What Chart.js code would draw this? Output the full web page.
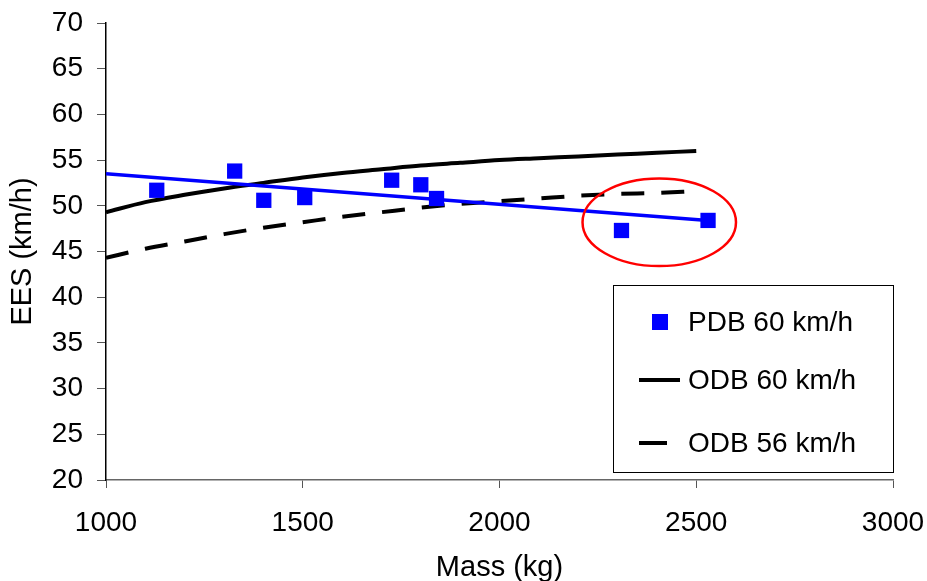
<!DOCTYPE html>
<html>
<head>
<meta charset="utf-8">
<script src="https://cdn.jsdelivr.net/npm/chart.js@4"></script>
<style>
  html, body { margin: 0; padding: 0; background: #fff; }
  #wrap { width: 927px; height: 581px; position: relative; }
</style>
</head>
<body>
<div id="wrap"><canvas id="chart"></canvas></div>
<script>
// PDB 60 km/h test results
const pdbMass = [1129, 1327, 1401, 1505, 1726, 1800, 1840, 2310, 2530];
const pdbEes = [51.7, 53.8, 50.6, 50.9, 52.8, 52.3, 50.8, 47.3, 48.4];

// linear trend through the PDB points
const trendMass = [1000, 2530];
const trendEes = [53.5, 48.4];

// ODB curves
const curveMass = [1000, 1100, 1200, 1300, 1400, 1500, 1600, 1700, 1800, 1900, 2000, 2100, 2200, 2300, 2400, 2500];
const odb60 = [49.3, 50.4, 51.2, 51.9, 52.5, 53.1, 53.6, 54.0, 54.4, 54.7, 55.0, 55.2, 55.4, 55.6, 55.8, 56.0];
const odb56 = [44.3, 45.3, 46.1, 46.9, 47.6, 48.2, 48.8, 49.3, 49.8, 50.2, 50.5, 50.8, 51.1, 51.3, 51.4, 51.6];

const seriesNames = ['PDB 60 km/h', 'ODB 60 km/h', 'ODB 56 km/h'];
const xTicks = [1000, 1500, 2000, 2500, 3000];
const yTicks = [20, 25, 30, 35, 40, 45, 50, 55, 60, 65, 70];

// red ellipse around the heavy vehicles (data units)
const ringCenter = [2406, 48.2];
const ringRadius = [195, 4.8];

const FONT = '"Liberation Sans", Arial, sans-serif';

function toPoints(xs, ys) {
    return xs.map((x, i) => ({ x: x, y: ys[i] }));
}

// ellipse + legend box
const overlay = {
    id: 'overlay',
    afterDatasetsDraw(chart) {
        const ctx = chart.ctx;
        const xs = chart.scales.x, ys = chart.scales.y;
        const cx = xs.getPixelForValue(ringCenter[0]);
        const cy = ys.getPixelForValue(ringCenter[1]);
        const rx = Math.abs(xs.getPixelForValue(ringCenter[0] + ringRadius[0]) - cx);
        const ry = Math.abs(ys.getPixelForValue(ringCenter[1] + ringRadius[1]) - cy);
        ctx.save();
        ctx.strokeStyle = '#ff0000';
        ctx.lineWidth = 2.5;
        ctx.beginPath();
        ctx.ellipse(cx, cy, rx, ry, 0, 0, Math.PI * 2);
        ctx.stroke();

        // legend
        const bx = 613, by = 285, bw = 280, bh = 187;
        ctx.fillStyle = '#fff';
        ctx.fillRect(bx, by, bw, bh);
        ctx.strokeStyle = '#000';
        ctx.lineWidth = 1;
        ctx.strokeRect(bx + 0.5, by + 0.5, bw, bh);

        const rows = [322, 380, 443];
        ctx.fillStyle = '#0000ff';
        ctx.fillRect(652, rows[0] - 8, 16, 16);
        ctx.strokeStyle = '#000';
        ctx.lineWidth = 4;
        ctx.beginPath();
        ctx.moveTo(639, rows[1]);
        ctx.lineTo(680, rows[1]);
        ctx.stroke();
        ctx.beginPath();
        ctx.moveTo(639, rows[2]);
        ctx.lineTo(667, rows[2]);
        ctx.stroke();

        ctx.fillStyle = '#000';
        ctx.font = '28px ' + FONT;
        ctx.textBaseline = 'middle';
        ctx.textAlign = 'left';
        seriesNames.forEach((name, i) => ctx.fillText(name, 688, rows[i] + 1));
        ctx.restore();
    }
};

const ctx = document.getElementById('chart').getContext('2d');
new Chart(ctx, {
    type: 'scatter',
    data: {
        datasets: [
            {
                label: seriesNames[0],
                data: toPoints(pdbMass, pdbEes),
                pointStyle: 'rect',
                pointRadius: 10.8,
                backgroundColor: '#0000ff',
                borderColor: '#0000ff',
                borderWidth: 0,
                showLine: false,
                order: 0
            },
            {
                label: 'trend',
                data: toPoints(trendMass, trendEes),
                showLine: true,
                pointRadius: 0,
                borderColor: '#0000ff',
                borderWidth: 3.5,
                order: 1
            },
            {
                label: seriesNames[1],
                data: toPoints(curveMass, odb60),
                showLine: true,
                pointRadius: 0,
                borderColor: '#000',
                borderWidth: 4,
                cubicInterpolationMode: 'monotone',
                order: 2
            },
            {
                label: seriesNames[2],
                data: toPoints(curveMass, odb56),
                showLine: true,
                pointRadius: 0,
                borderColor: '#000',
                borderWidth: 4,
                borderDash: [23, 17],
                cubicInterpolationMode: 'monotone',
                order: 3
            }
        ]
    },
    options: {
        responsive: true,
        maintainAspectRatio: false,
        animation: false,
        layout: { padding: { top: 23, right: 34, left: 0, bottom: 0 } },
        plugins: {
            legend: { display: false },
            tooltip: { enabled: false }
        },
        scales: {
            x: {
                type: 'linear',
                min: 1000,
                max: 3000,
                afterBuildTicks: (s) => { s.ticks = xTicks.map(v => ({ value: v })); },
                afterFit: (s) => { s.height = 101; s.paddingLeft = 0; s.paddingRight = 0; },
                border: { color: '#666', width: 1.5 },
                grid: { drawOnChartArea: false, tickLength: 8, color: '#555', lineWidth: 1 },
                ticks: { color: '#000', font: { family: FONT, size: 28 }, padding: 18, maxRotation: 0, callback: (v) => String(v) },
                title: { display: true, text: 'Mass (kg)', color: '#000', font: { family: FONT, size: 29, lineHeight: 0.9 }, padding: { top: 0, bottom: 0 } }
            },
            y: {
                min: 20,
                max: 70,
                afterBuildTicks: (s) => { s.ticks = yTicks.map(v => ({ value: v })); },
                afterFit: (s) => { s.width = 106; s.paddingTop = 0; s.paddingBottom = 0; },
                border: { color: '#000', width: 1.5 },
                grid: { drawOnChartArea: false, tickLength: 9, color: '#555', lineWidth: 1 },
                ticks: { color: '#000', font: { family: FONT, size: 28 }, padding: 14 },
                title: { display: true, text: 'EES (km/h)', color: '#000', font: { family: FONT, size: 29 }, padding: { top: 6, bottom: 0 } }
            }
        }
    },
    plugins: [overlay]
});
</script>
</body>
</html>
